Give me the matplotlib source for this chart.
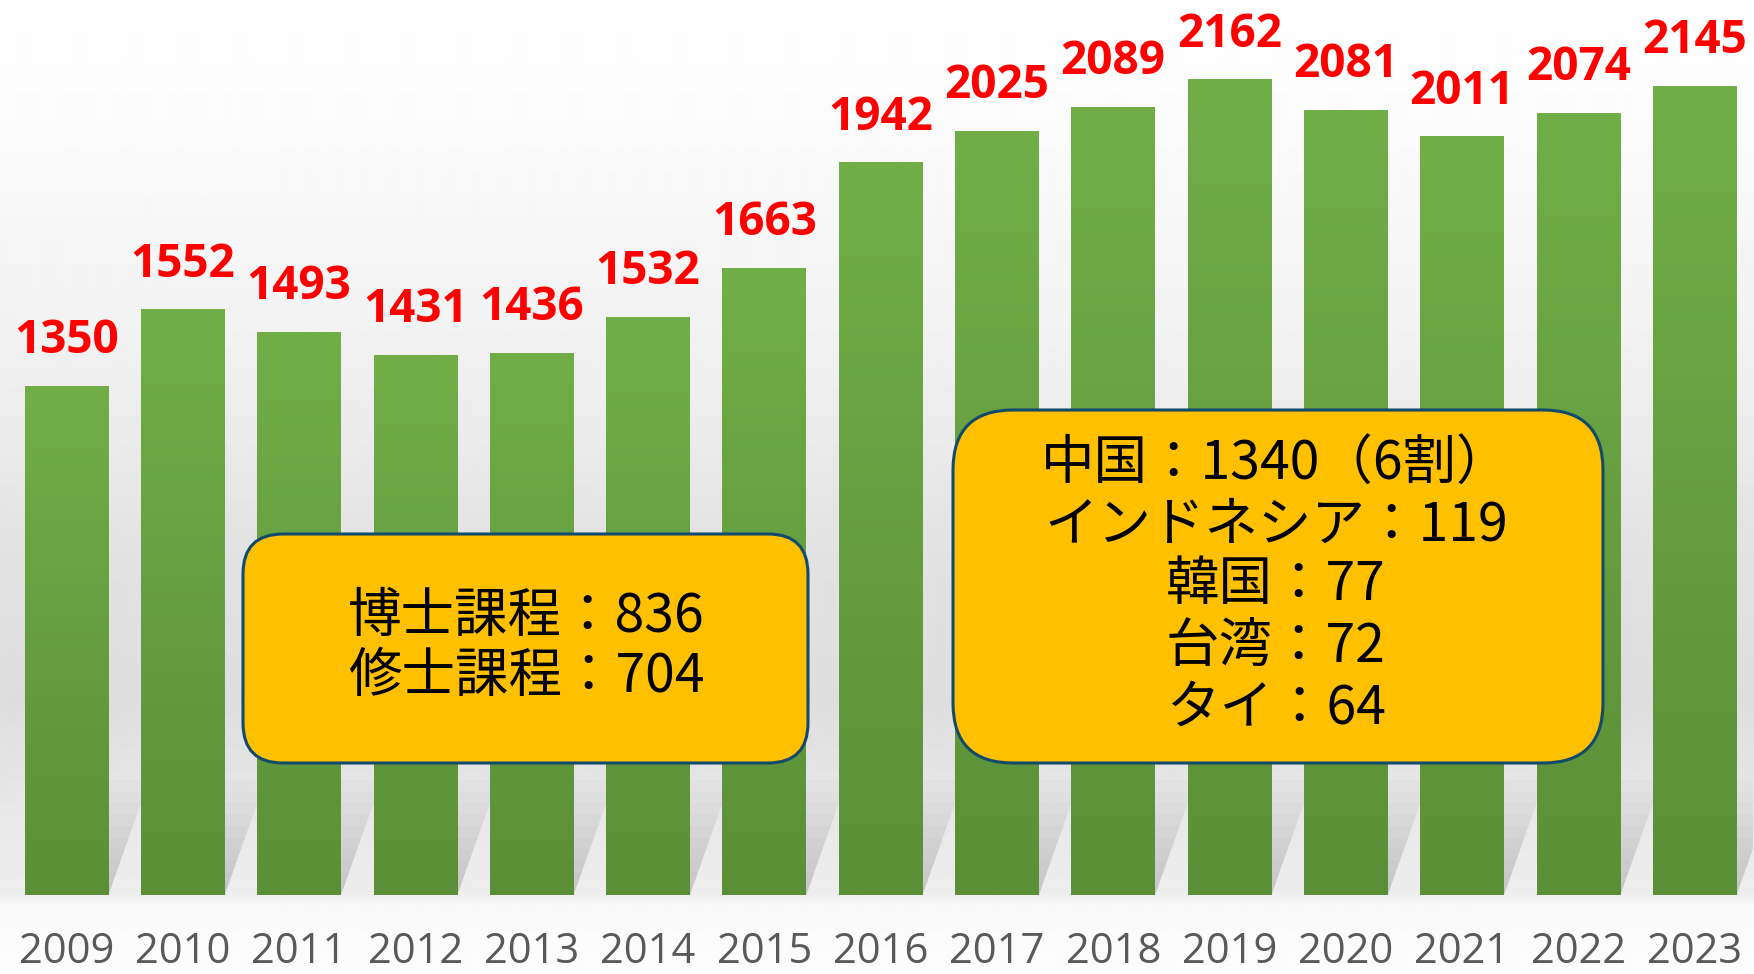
import numpy as np
import matplotlib
matplotlib.use('Agg')
import matplotlib.pyplot as plt
from matplotlib.colors import LinearSegmentedColormap
from matplotlib.patches import FancyBboxPatch, Polygon

# ---------------- data ----------------
years = ['2009', '2010', '2011', '2012', '2013', '2014', '2015', '2016',
         '2017', '2018', '2019', '2020', '2021', '2022', '2023']
values = [1350, 1552, 1493, 1431, 1436, 1532, 1663, 1942,
          2025, 2089, 2162, 2081, 2011, 2074, 2145]
course_lines = ['博士課程：836', '修士課程：704']
country_lines = ['中国：1340（6割）', 'インドネシア：119', '韓国：77', '台湾：72', 'タイ：64']

W, H = 1754, 974
fig = plt.figure(figsize=(W / 100, H / 100), dpi=100)

# ---------------- background gradient ----------------
bg = fig.add_axes([0, 0, 1, 1], zorder=-10)
rows = np.arange(H)
stops_y = [0, 120, 330, 560, 700, 800, 893, 905, 974]
stops_v = [1.0, 0.985, 0.95, 0.885, 0.87, 0.905, 0.93, 0.975, 0.99]
col = np.interp(rows, stops_y, stops_v).reshape(-1, 1)
bg.imshow(col, cmap='gray', vmin=0, vmax=1, aspect='auto',
          extent=[0, 1, 0, 1], origin='upper', interpolation='bilinear')
bg.set_axis_off()

# ---------------- main axes ----------------
pitch = 116.3
left_px = 66.5 - pitch / 2
ax = fig.add_axes([left_px / W, 1 - 895 / H, 15 * pitch / W, 895 / H])
ax.patch.set_alpha(0)
x = np.arange(len(years))
bw = 0.72
ymax = 895 / 0.377

# soft perspective shadows behind bars
sh_h = 305
sh_dx = 0.35
for xi in x:
    for k in range(10):
        f = (k + 1) / 10
        pts = [(xi - bw / 2, 0), (xi + bw / 2, 0),
               (xi + bw / 2 + sh_dx * f, sh_h * f), (xi - bw / 2 + sh_dx * f, sh_h * f)]
        ax.add_patch(Polygon(pts, closed=True, facecolor='#8c8c8c', edgecolor='none',
                             alpha=0.045, zorder=1))

bars = ax.bar(x, values, width=bw, color='#66A040', zorder=2)
green = LinearSegmentedColormap.from_list('g', ['#5B8F37', '#71AE48'])
grad = np.linspace(0, 1, 256).reshape(-1, 1)
for b in bars:
    x0 = b.get_x()
    ax.imshow(grad, cmap=green, origin='lower', aspect='auto', zorder=3,
              extent=[x0, x0 + b.get_width(), 0, b.get_height()])

for xi, v in zip(x, values):
    ax.annotate(f'{v}', xy=(xi, v), xytext=(0, 24), textcoords='offset points',
                ha='center', va='baseline', fontsize=33, fontweight='bold',
                color='#FF0000', fontfamily='Open Sans', zorder=5,
                annotation_clip=False)

ax.set_xlim(-0.5, len(years) - 0.5)
ax.set_ylim(0, ymax)
ax.set_xticks(x, years)
for t in ax.get_xticklabels():
    t.set_fontsize(30)
    t.set_color('#595959')
    t.set_fontfamily('Open Sans')
ax.tick_params(axis='x', length=0, pad=26)
ax.set_yticks([])
for s in ax.spines.values():
    s.set_visible(False)

# ---------------- callout boxes ----------------
cjk = ['Noto Sans CJK JP', 'DejaVu Sans']


def callout(x0, y0, x1, y1, radius, lines, centers_y, cx):
    box = FancyBboxPatch((x0 / 100, (H - y1) / 100), (x1 - x0) / 100, (y1 - y0) / 100,
                         boxstyle=f'round,pad=0,rounding_size={radius / 100}',
                         transform=fig.dpi_scale_trans, facecolor='#FFC000',
                         edgecolor='#124A6C', linewidth=2.2, zorder=20)
    fig.add_artist(box)
    for line, cy in zip(lines, centers_y):
        fig.text(cx / 100, (H - cy) / 100, line, transform=fig.dpi_scale_trans,
                 ha='center', va='center', fontsize=38.5, family=cjk,
                 color='black', zorder=21)


callout(243, 534, 808, 763, 40, course_lines, [616, 677], 526)
callout(953, 410, 1603, 763, 60, country_lines, [463, 525, 585, 647, 708], 1276)

fig.savefig('out.png', dpi=100)
